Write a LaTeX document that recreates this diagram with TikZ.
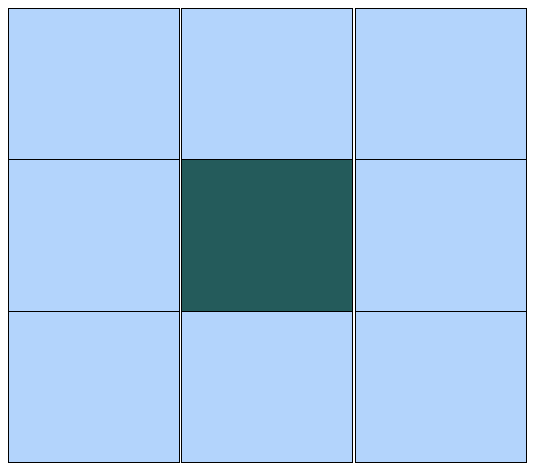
\documentclass[tikz,border=0pt]{standalone}
\definecolor{cellblue}{HTML}{B3D4FC}
\definecolor{cellteal}{HTML}{245B5B}
\tikzset{
  cell/.style={draw=black, line width=1pt, fill=cellblue, minimum width=171pt, minimum height=151.5pt, inner sep=0pt, outer sep=0pt, anchor=north west},
  center cell/.style={cell, fill=cellteal}
}
\begin{document}
\begin{tikzpicture}[x=1pt,y=-1pt]
\useasboundingbox (0,0) rectangle (535,472);
\node[cell] (c11) at (8,8) {};
\node[cell] (c12) at (181.5,8) {};
\node[cell] (c13) at (355.5,8) {};
\node[cell] (c21) at (8,159.5) {};
\node[center cell] (c22) at (181.5,159.5) {};
\node[cell] (c23) at (355.5,159.5) {};
\node[cell] (c31) at (8,311) {};
\node[cell] (c32) at (181.5,311) {};
\node[cell] (c33) at (355.5,311) {};
\end{tikzpicture}
\end{document}
